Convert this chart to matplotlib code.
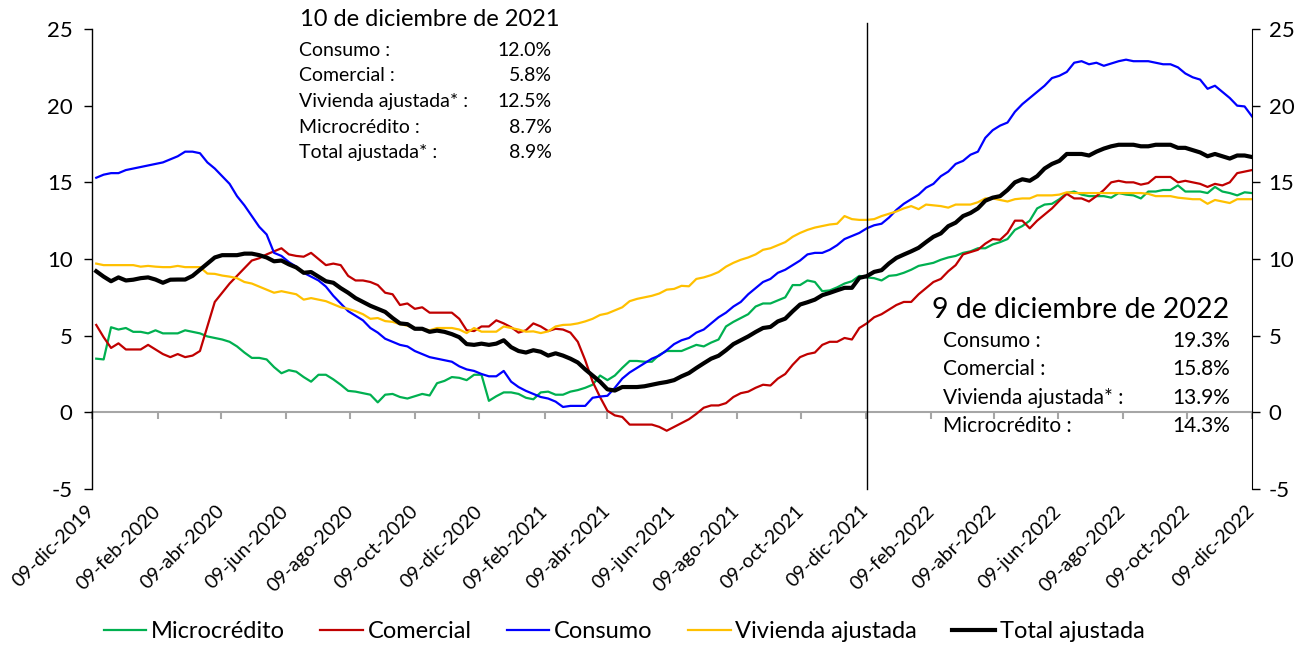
import datetime as dt
import matplotlib
matplotlib.use("Agg")
import matplotlib.pyplot as plt
import matplotlib.dates as mdates

plt.rcParams['font.family'] = ['Lato', 'DejaVu Sans']
plt.rcParams['axes.unicode_minus'] = False

# datos semanales (viernes), 13-dic-2019 a 09-dic-2022
inicio = dt.date(2019, 12, 13)
n_semanas = 157
fechas = [inicio + dt.timedelta(days=7 * k) for k in range(n_semanas)]

microcredito = [
    3.5, 3.45, 5.55, 5.4, 5.5, 5.25, 5.25, 5.15, 5.35, 5.15,
    5.15, 5.15, 5.35, 5.25, 5.15, 4.95, 4.85, 4.75, 4.6, 4.3,
    3.9, 3.55, 3.55, 3.45, 2.95, 2.55, 2.75, 2.65, 2.3, 2.0,
    2.45, 2.45, 2.15, 1.8, 1.4, 1.35, 1.25, 1.15, 0.65, 1.15,
    1.2, 1.0, 0.9, 1.05, 1.2, 1.1, 1.9, 2.05, 2.3, 2.25,
    2.1, 2.45, 2.45, 0.75, 1.05, 1.3, 1.3, 1.2, 0.95, 0.85,
    1.3, 1.35, 1.15, 1.15, 1.35, 1.45, 1.6, 1.8, 2.4, 2.1,
    2.4, 2.9, 3.35, 3.35, 3.3, 3.3, 3.75, 4.0, 4.0, 4.0,
    4.2, 4.4, 4.3, 4.55, 4.75, 5.6, 5.9, 6.15, 6.4, 6.9,
    7.1, 7.1, 7.3, 7.5, 8.3, 8.3, 8.6, 8.5, 7.9, 7.95,
    8.15, 8.4, 8.55, 8.9, 8.8, 8.75, 8.6, 8.9, 8.95, 9.1,
    9.3, 9.55, 9.65, 9.75, 9.95, 10.1, 10.2, 10.4, 10.5, 10.7,
    10.7, 10.95, 11.1, 11.3, 11.9, 12.15, 12.5, 13.3, 13.55, 13.6,
    13.9, 14.3, 14.4, 14.2, 14.1, 14.1, 14.1, 14.0, 14.3, 14.2,
    14.15, 13.95, 14.4, 14.4, 14.5, 14.5, 14.8, 14.4, 14.4, 14.4,
    14.3, 14.7, 14.4, 14.3, 14.15, 14.35, 14.3,
]

comercial = [
    5.7, 4.9, 4.2, 4.5, 4.1, 4.1, 4.1, 4.4, 4.1, 3.8,
    3.6, 3.8, 3.6, 3.7, 4.0, 5.6, 7.2, 7.8, 8.4, 8.9,
    9.4, 9.9, 10.05, 10.3, 10.5, 10.7, 10.3, 10.2, 10.15, 10.4,
    10.0, 9.6, 9.7, 9.6, 8.9, 8.6, 8.6, 8.5, 8.3, 7.8,
    7.7, 7.0, 7.1, 6.75, 6.85, 6.5, 6.5, 6.5, 6.5, 6.1,
    5.35, 5.3, 5.6, 5.6, 6.0, 5.8, 5.55, 5.2, 5.35, 5.8,
    5.6, 5.3, 5.45, 5.4, 5.2, 4.6, 3.4, 2.0, 1.0, 0.1,
    -0.2, -0.3, -0.8, -0.8, -0.8, -0.8, -0.95, -1.2, -0.95, -0.7,
    -0.45, -0.1, 0.3, 0.45, 0.45, 0.6, 1.0, 1.25, 1.35, 1.6,
    1.8, 1.75, 2.2, 2.5, 3.1, 3.6, 3.8, 3.9, 4.4, 4.6,
    4.6, 4.85, 4.75, 5.5, 5.8, 6.2, 6.4, 6.7, 7.0, 7.2,
    7.2, 7.7, 8.1, 8.5, 8.7, 9.2, 9.6, 10.3, 10.45, 10.6,
    11.0, 11.3, 11.25, 11.7, 12.5, 12.5, 12.0, 12.5, 12.9, 13.3,
    13.8, 14.25, 13.95, 13.95, 13.75, 14.1, 14.5, 15.0, 15.1, 15.0,
    15.0, 14.85, 14.95, 15.35, 15.35, 15.35, 15.0, 15.1, 15.0, 14.9,
    14.7, 14.9, 14.8, 15.0, 15.6, 15.7, 15.8,
]

consumo = [
    15.3, 15.5, 15.6, 15.6, 15.8, 15.9, 16.0, 16.1, 16.2, 16.3,
    16.5, 16.7, 17.0, 17.0, 16.9, 16.3, 15.9, 15.4, 14.9, 14.1,
    13.5, 12.8, 12.1, 11.6, 10.4, 10.2, 9.8, 9.5, 9.1, 8.85,
    8.6, 8.2, 7.6, 7.1, 6.6, 6.3, 6.0, 5.5, 5.2, 4.8,
    4.6, 4.4, 4.3, 4.0, 3.8, 3.6, 3.5, 3.4, 3.3, 3.0,
    2.8, 2.7, 2.5, 2.35, 2.35, 2.7, 2.0, 1.65, 1.4, 1.2,
    1.0, 0.9, 0.7, 0.35, 0.42, 0.42, 0.42, 0.95, 1.03, 1.08,
    1.6, 2.2, 2.6, 2.9, 3.2, 3.5, 3.7, 4.05, 4.45, 4.7,
    4.85, 5.2, 5.4, 5.8, 6.2, 6.5, 6.9, 7.2, 7.7, 8.1,
    8.5, 8.7, 9.1, 9.3, 9.6, 9.9, 10.3, 10.4, 10.4, 10.6,
    10.9, 11.3, 11.5, 11.7, 12.0, 12.2, 12.3, 12.7, 13.2, 13.6,
    13.9, 14.2, 14.65, 14.9, 15.4, 15.7, 16.2, 16.4, 16.8, 17.0,
    17.9, 18.4, 18.7, 18.9, 19.6, 20.1, 20.5, 20.9, 21.3, 21.8,
    21.95, 22.2, 22.8, 22.9, 22.7, 22.8, 22.6, 22.75, 22.9, 23.0,
    22.9, 22.9, 22.9, 22.8, 22.7, 22.7, 22.5, 22.1, 21.85, 21.7,
    21.1, 21.3, 20.9, 20.5, 20.0, 19.95, 19.3,
]

vivienda = [
    9.7, 9.6, 9.6, 9.6, 9.6, 9.6, 9.5, 9.55, 9.5, 9.47,
    9.47, 9.55, 9.47, 9.47, 9.47, 9.05, 9.03, 8.92, 8.85, 8.75,
    8.5, 8.4, 8.2, 8.0, 7.8, 7.9, 7.8, 7.7, 7.35, 7.45,
    7.35, 7.25, 7.05, 6.85, 6.75, 6.6, 6.4, 6.1, 6.15, 5.95,
    5.9, 5.75, 5.65, 5.5, 5.45, 5.35, 5.5, 5.5, 5.5, 5.4,
    5.17, 5.5, 5.26, 5.26, 5.26, 5.6, 5.5, 5.4, 5.26, 5.28,
    5.17, 5.28, 5.6, 5.7, 5.72, 5.8, 5.93, 6.1, 6.35, 6.45,
    6.65, 6.85, 7.25, 7.4, 7.5, 7.6, 7.75, 8.0, 8.05, 8.25,
    8.22, 8.7, 8.8, 8.95, 9.15, 9.5, 9.75, 9.95, 10.1, 10.3,
    10.6, 10.7, 10.9, 11.1, 11.45, 11.7, 11.9, 12.05, 12.15, 12.25,
    12.3, 12.8, 12.6, 12.55, 12.55, 12.6, 12.8, 12.95, 13.1, 13.3,
    13.45, 13.25, 13.55, 13.5, 13.45, 13.35, 13.55, 13.55, 13.55, 13.7,
    13.95, 13.95, 13.85, 13.75, 13.9, 13.95, 13.95, 14.15, 14.15, 14.15,
    14.2, 14.35, 14.3, 14.3, 14.3, 14.3, 14.3, 14.3, 14.3, 14.3,
    14.3, 14.3, 14.25, 14.1, 14.1, 14.1, 14.0, 13.95, 13.9, 13.9,
    13.6, 13.85, 13.75, 13.65, 13.9, 13.9, 13.9,
]

total = [
    9.2, 8.85, 8.55, 8.8, 8.6, 8.65, 8.75, 8.8, 8.66, 8.45,
    8.65, 8.66, 8.66, 8.9, 9.3, 9.7, 10.1, 10.25, 10.25, 10.25,
    10.35, 10.35, 10.25, 10.1, 9.85, 9.9, 9.65, 9.45, 9.1, 9.15,
    8.85, 8.55, 8.45, 8.1, 7.8, 7.45, 7.2, 6.95, 6.75, 6.55,
    6.15, 5.8, 5.75, 5.45, 5.45, 5.25, 5.33, 5.25, 5.1, 4.9,
    4.45, 4.4, 4.48, 4.4, 4.48, 4.7, 4.25, 4.0, 3.9, 4.05,
    3.95, 3.7, 3.85, 3.7, 3.5, 3.25, 2.8, 2.4, 2.0, 1.5,
    1.42, 1.65, 1.65, 1.65, 1.7, 1.8, 1.9, 1.98, 2.1, 2.35,
    2.56, 2.89, 3.2, 3.5, 3.69, 4.05, 4.45, 4.7, 4.95, 5.24,
    5.5, 5.57, 5.93, 6.11, 6.59, 7.03, 7.18, 7.35, 7.64, 7.79,
    7.96, 8.12, 8.12, 8.77, 8.88, 9.16, 9.27, 9.71, 10.07, 10.29,
    10.5, 10.73, 11.1, 11.45, 11.67, 12.14, 12.37, 12.8, 13.0, 13.3,
    13.8, 14.0, 14.1, 14.5, 15.0, 15.2, 15.1, 15.4, 15.9, 16.2,
    16.4, 16.85, 16.85, 16.85, 16.75, 17.0, 17.2, 17.35, 17.45, 17.45,
    17.45, 17.35, 17.35, 17.45, 17.45, 17.45, 17.25, 17.25, 17.1, 16.95,
    16.7, 16.85, 16.7, 16.55, 16.75, 16.75, 16.65,
]

series = [
    ('Microcrédito', microcredito, '#00B050', 1.6),
    ('Comercial', comercial, '#C00000', 1.6),
    ('Consumo', consumo, '#0000FF', 1.6),
    ('Vivienda ajustada', vivienda, '#FFC000', 1.6),
    ('Total ajustada', total, 'black', 3.0),
]

fecha_corte = dt.date(2021, 12, 10)

anot_2021_titulo = '10 de diciembre de 2021'
anot_2021_labels = ['Consumo :', 'Comercial :', 'Vivienda ajustada* :', 'Microcrédito :', 'Total ajustada* :']
anot_2021_values = ['12.0%', '5.8%', '12.5%', '8.7%', '8.9%']

anot_2022_titulo = '9 de diciembre de 2022'
anot_2022_labels = ['Consumo :', 'Comercial :', 'Vivienda ajustada* :', 'Microcrédito :']
anot_2022_values = ['19.3%', '15.8%', '13.9%', '14.3%']

meses = ['ene', 'feb', 'mar', 'abr', 'may', 'jun', 'jul', 'ago', 'sep', 'oct', 'nov', 'dic']

# ticks cada 2 meses, dia 9
tick_fechas = []
anio, mes = 2019, 12
while (anio, mes) <= (2022, 12):
    tick_fechas.append(dt.date(anio, mes, 9))
    mes += 2
    if mes > 12:
        mes -= 12
        anio += 1
tick_labels = ["{:02d}-{}-{}".format(d.day, meses[d.month - 1], d.year) for d in tick_fechas]

x = mdates.date2num(fechas)
tick_x = mdates.date2num(tick_fechas)

W, H = 1315, 647
fig = plt.figure(figsize=(W / 100, H / 100), dpi=100)
ax = fig.add_axes([92 / W, 1 - 489 / H, 1160 / W, 460 / H])

for nombre, vals, color, lw in series:
    ax.plot(x, vals, color=color, lw=lw, label=nombre)

ax.set_xlim(mdates.date2num(dt.date(2019, 12, 9)), mdates.date2num(dt.date(2022, 12, 9)))
ax.set_ylim(-5, 25)
ax.set_yticks(range(-5, 30, 5))
ax.axvline(mdates.date2num(fecha_corte), color='black', lw=1.0, ymax=1.013, clip_on=False)

for s in ['top', 'bottom', 'right']:
    ax.spines[s].set_visible(False)
ax.spines['left'].set_linewidth(1.0)
ax.tick_params(axis='y', direction='out', length=6, width=1, pad=8, labelsize=16)
ax.set_xticks(tick_x)
ax.set_xticklabels(tick_labels, rotation=45, ha='right', va='center',
                   rotation_mode='anchor', fontsize=14)
ax.tick_params(axis='x', length=0, pad=14)

# eje derecho
ax2 = ax.twinx()
ax2.set_ylim(-5, 25)
ax2.set_yticks(range(-5, 30, 5))
for s in ['top', 'bottom', 'left']:
    ax2.spines[s].set_visible(False)
ax2.tick_params(axis='y', direction='out', length=6, width=1, pad=6, labelsize=16)

# linea de cero con marcas
zax = ax.secondary_xaxis((0 - (-5)) / 30)
zax.set_xticks(tick_x)
zax.tick_params(axis='x', direction='out', length=5, width=1.5, color='#A6A6A6', labelbottom=False)
zax.spines['bottom'].set_color('#A6A6A6')
zax.spines['bottom'].set_linewidth(1.5)

fig.legend(loc='center', bbox_to_anchor=(624 / W, 1 - 632 / H), ncol=5, frameon=False,
           fontsize=17, handlelength=1.8, handletextpad=0.2, columnspacing=1.5)

# anotaciones
fig.text(300 / W, 1 - 19 / H, anot_2021_titulo, fontsize=17, ha='left', va='center')
for k, (lab, val) in enumerate(zip(anot_2021_labels, anot_2021_values)):
    yy = 1 - (50 + 25.7 * k) / H
    fig.text(299 / W, yy, lab, fontsize=14, ha='left', va='center')
    fig.text(552 / W, yy, val, fontsize=14, ha='right', va='center')

fig.text(932 / W, 1 - 310 / H, anot_2022_titulo, fontsize=20.5, ha='left', va='center')
for k, (lab, val) in enumerate(zip(anot_2022_labels, anot_2022_values)):
    yy = 1 - (341 + 28.3 * k) / H
    fig.text(943 / W, yy, lab, fontsize=15, ha='left', va='center')
    fig.text(1230 / W, yy, val, fontsize=15, ha='right', va='center')

fig.savefig('out.png', dpi=100)
